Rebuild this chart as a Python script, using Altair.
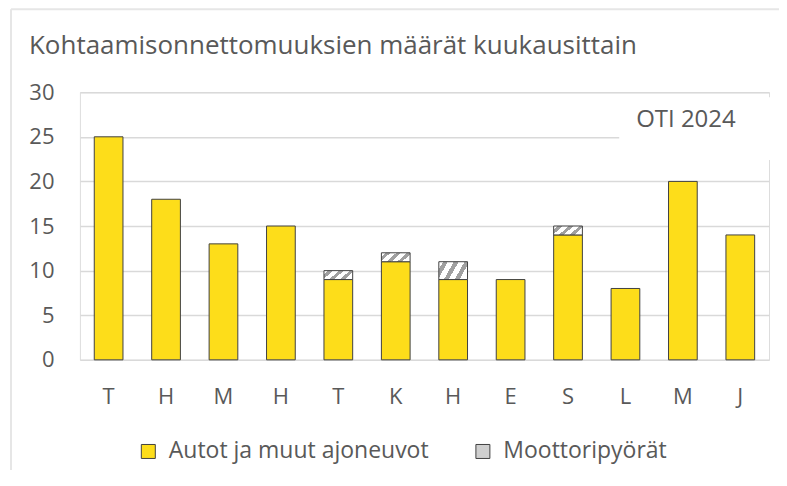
import altair as alt
import pandas as pd

# ---- data ----
months = ["Tammikuu", "Helmikuu", "Maaliskuu", "Huhtikuu", "Toukokuu", "Kesäkuu",
          "Heinäkuu", "Elokuu", "Syyskuu", "Lokakuu", "Marraskuu", "Joulukuu"]
cars = [25, 18, 13, 15, 9, 11, 9, 9, 14, 8, 20, 14]
motorcycles = [0, 0, 0, 0, 1, 1, 2, 0, 1, 0, 0, 0]
series = ["Autot ja muut ajoneuvot", "Moottoripyörät"]
title_text = "Kohtaamisonnettomuuksien määrät kuukausittain"
note_text = "OTI 2024"
y_ticks = [0, 5, 10, 15, 20, 25, 30]

rows = []
for i, m in enumerate(months):
    rows.append({"kk": m, "sarja": series[0], "jarj": 0, "maara": cars[i]})
    rows.append({"kk": m, "sarja": series[1], "jarj": 1, "maara": motorcycles[i]})
df = pd.DataFrame(rows)

TEXT = "#595959"
GRID = "#D9D9D9"
FONT = "Open Sans"
YELLOW = "#FDDD1A"

# diagonal hatch approximated with a hard-stop linear gradient
stops = []
n = 3
for k in range(n):
    s = k / n
    stops += [
        {"offset": s, "color": "#FFFFFF"},
        {"offset": s + 0.4 / n, "color": "#FFFFFF"},
        {"offset": s + 0.4 / n, "color": "#A0A0A0"},
        {"offset": s + 0.85 / n, "color": "#A0A0A0"},
        {"offset": s + 0.85 / n, "color": "#FFFFFF"},
    ]
stops.append({"offset": 1, "color": "#FFFFFF"})
hatch = {"gradient": "linear", "x1": 0, "y1": 0, "x2": 1, "y2": 0.35, "stops": stops}

bars = alt.Chart(df).transform_filter("datum.maara > 0").mark_bar(
    stroke="#404040", strokeWidth=1
).encode(
    x=alt.X("kk:N", sort=months,
            scale=alt.Scale(paddingInner=0.5, paddingOuter=0.25),
            axis=alt.Axis(title=None, labelExpr="substring(datum.label, 0, 1)",
                          labelAngle=0, domain=False, ticks=False, labelFontSize=22,
                          labelColor=TEXT, labelFont=FONT, labelPadding=27)),
    y=alt.Y("maara:Q", stack="zero", scale=alt.Scale(domain=[0, 30]),
            axis=alt.Axis(title=None, values=y_ticks, domain=False, ticks=False,
                          gridColor=GRID, gridWidth=1.5, labelFontSize=22,
                          labelColor=TEXT, labelFont=FONT, labelPadding=26)),
    color=alt.condition(
        "datum.sarja === 'Moottoripyörät'",
        alt.value(hatch),
        alt.Color("sarja:N", scale=alt.Scale(domain=series, range=[YELLOW, "#CFCFCF"]),
                  legend=alt.Legend(title=None, orient="none", legendX=57, legendY=348,
                                    direction="horizontal", labelFontSize=23,
                                    labelColor=TEXT, labelFont=FONT, symbolType="square",
                                    symbolSize=196, symbolStrokeColor="#404040",
                                    symbolStrokeWidth=1, columnPadding=42, labelOffset=9,
                                    labelLimit=0)),
    ),
    order=alt.Order("jarj:Q", sort="ascending"),
)

one = pd.DataFrame({"a": [0]})

note_box = alt.Chart(one).mark_rect(fill="white", strokeWidth=0).encode(
    x=alt.value(540), x2=alt.value(700), y=alt.value(5), y2=alt.value(68)
)
note = alt.Chart(one).mark_text(text=note_text, align="left", baseline="middle",
                                font=FONT, fontSize=24, color=TEXT).encode(
    x=alt.value(557), y=alt.value(28)
)
title = alt.Chart(one).mark_text(text=title_text, align="left", baseline="middle",
                                 font=FONT, fontSize=26, color=TEXT).encode(
    x=alt.value(-51), y=alt.value(-46)
)
border_top = alt.Chart(one).mark_rule(color="#E6E6E6", strokeWidth=2).encode(
    x=alt.value(-69), x2=alt.value(720), y=alt.value(-83)
)
border_left = alt.Chart(one).mark_rule(color="#E6E6E6", strokeWidth=2).encode(
    x=alt.value(-69), y=alt.value(-83), y2=alt.value(400)
)

chart = alt.layer(border_top, border_left, bars, note_box, note, title).properties(
    width=690, height=268,
    padding={"left": 72, "top": 84, "right": 10, "bottom": 110},
    autosize="none",
).configure_view(stroke=None).configure(font=FONT)

chart.save("out.html", embed_options={"renderer": "svg", "actions": False})
